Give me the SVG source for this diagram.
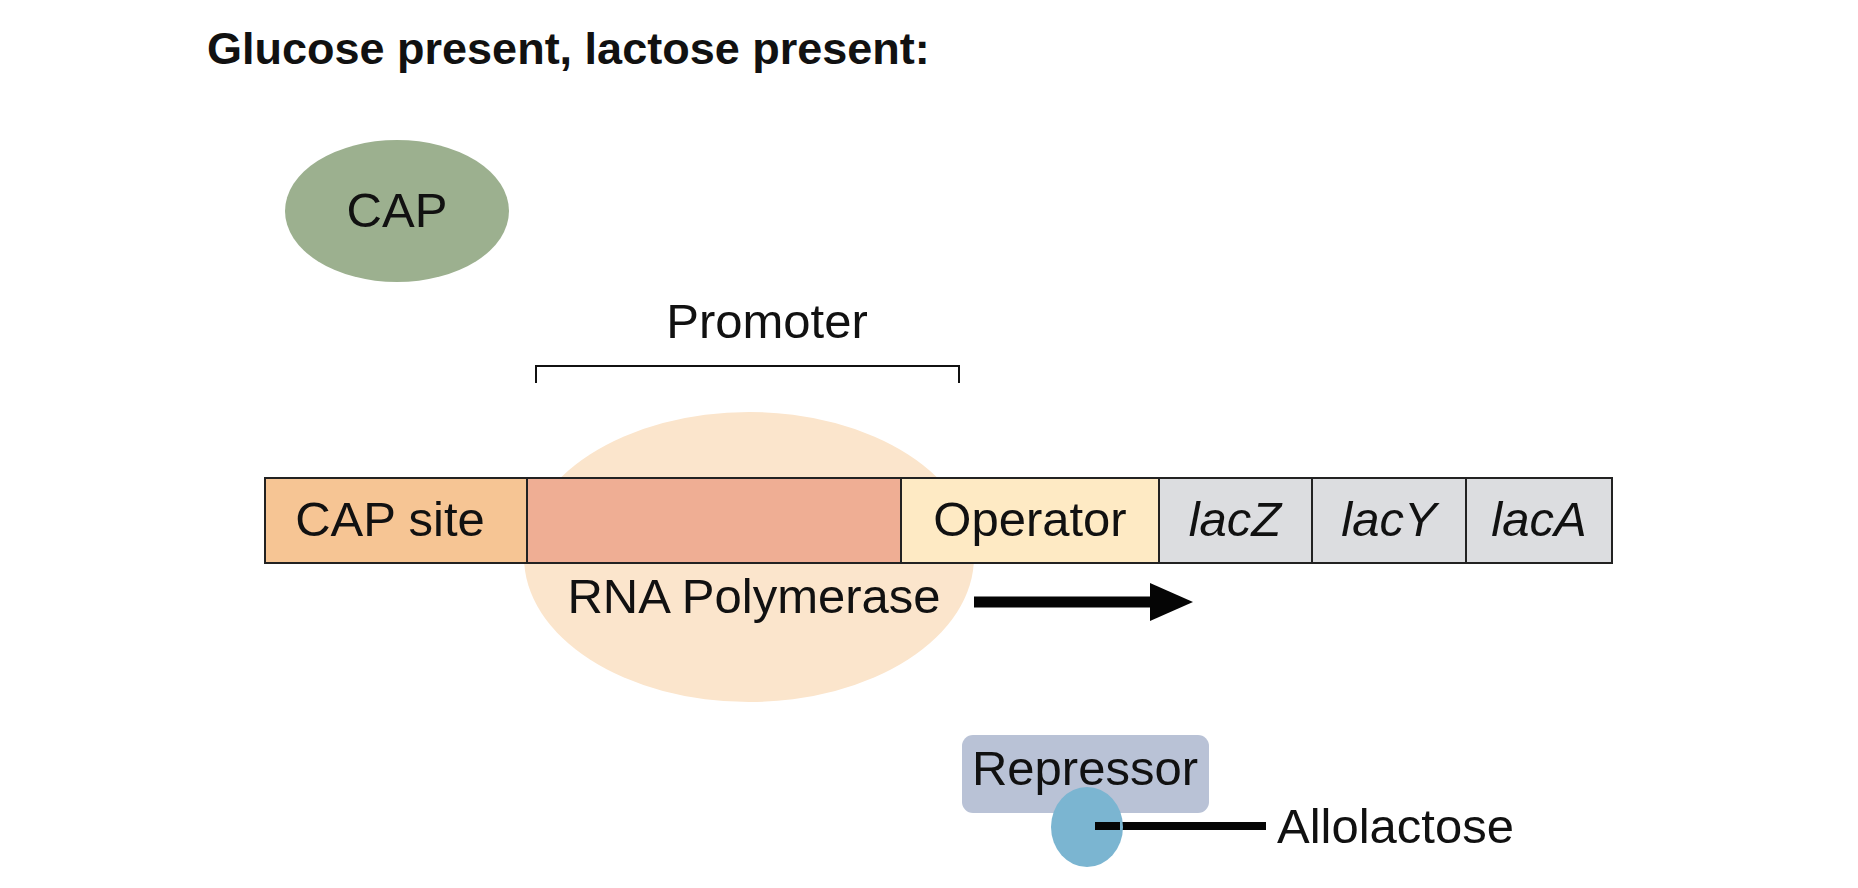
<svg xmlns="http://www.w3.org/2000/svg" width="1858" height="888" viewBox="0 0 1858 888">
<style>
text{font-family:"Liberation Sans",Arial,sans-serif;fill:#111}
.t{font-size:49px}
.seg{stroke:#222;stroke-width:2}
</style>
<rect width="1858" height="888" fill="#fff"/>
<text x="207" y="64" style="font-size:45px;font-weight:bold">Glucose present, lactose present:</text>
<g id="cap"><ellipse cx="397" cy="211" rx="112" ry="71" fill="#9cb08f"/><text class="t" x="397" y="227" text-anchor="middle">CAP</text></g>
<g id="promoter"><text class="t" x="767" y="338" text-anchor="middle">Promoter</text>
<path d="M536 383V366H959V383" fill="none" stroke="#111" stroke-width="2"/></g>
<g id="rnapol"><ellipse cx="749" cy="557" rx="225" ry="145" fill="#fbe5cc"/></g>
<g id="dna">
<rect class="seg" x="265" y="478" width="262" height="85" fill="#f6c594"/>
<rect class="seg" x="527" y="478" width="374" height="85" fill="#efae94"/>
<rect class="seg" x="901" y="478" width="258" height="85" fill="#feeac4"/>
<rect class="seg" x="1159" y="478" width="153" height="85" fill="#dcdde0"/>
<rect class="seg" x="1312" y="478" width="154" height="85" fill="#dcdde0"/>
<rect class="seg" x="1466" y="478" width="146" height="85" fill="#dcdde0"/>
<text class="t" x="390" y="536" text-anchor="middle">CAP site</text>
<text class="t" x="1030" y="536" text-anchor="middle">Operator</text>
<text class="t" x="1235" y="536" text-anchor="middle" font-style="italic">lacZ</text>
<text class="t" x="1389" y="536" text-anchor="middle" font-style="italic">lacY</text>
<text class="t" x="1539" y="536" text-anchor="middle" font-style="italic">lacA</text>
</g>
<text class="t" x="754" y="613" text-anchor="middle">RNA Polymerase</text>
<g id="connectors">
<path d="M974 602H1160" stroke="#050505" stroke-width="11"/>
<path d="M1150 583L1193 602L1150 621Z" fill="#050505"/>
<path d="M1108 826H1266" stroke="#050505" stroke-width="8"/>
</g>
<g id="repressor"><rect x="962" y="735" width="247" height="78" rx="11" fill="#b9c2d6"/><text class="t" x="1085" y="785" text-anchor="middle">Repressor</text></g>
<g id="allolactose"><ellipse cx="1087" cy="827" rx="36" ry="40" fill="#7bb5d1"/>
<path d="M1095 826H1120" stroke="#050505" stroke-width="8"/>
<text class="t" x="1277" y="843">Allolactose</text></g>
</svg>
